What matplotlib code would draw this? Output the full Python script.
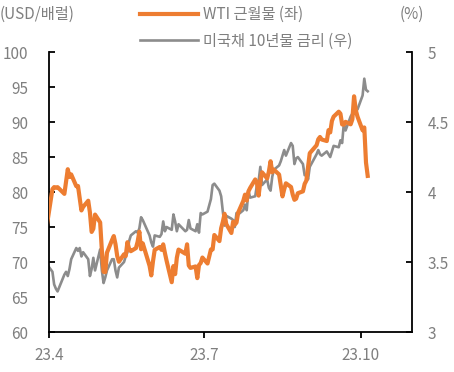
import matplotlib
matplotlib.use('Agg')
import matplotlib.pyplot as plt
import pandas as pd

plt.rcParams['font.family'] = ['Noto Sans CJK KR', 'DejaVu Sans']

# trading days (2023)
dates = (
    ['03-31']
    + ['04-%02d' % d for d in [3, 4, 5, 6, 10, 11, 12, 13, 14, 17, 18, 19, 20, 21, 24, 25, 26, 27, 28]]
    + ['05-%02d' % d for d in [1, 2, 3, 4, 5, 8, 9, 10, 11, 12, 15, 16, 17, 18, 19, 22, 23, 24, 25, 26, 30, 31]]
    + ['06-%02d' % d for d in [1, 2, 5, 6, 7, 8, 9, 12, 13, 14, 15, 16, 20, 21, 22, 23, 26, 27, 28, 29, 30]]
    + ['07-%02d' % d for d in [3, 5, 6, 7, 10, 11, 12, 13, 14, 17, 18, 19, 20, 21, 24, 25, 26, 27, 28, 31]]
    + ['08-%02d' % d for d in [1, 2, 3, 4, 7, 8, 9, 10, 11, 14, 15, 16, 17, 18, 21, 22, 23, 24, 25, 28, 29, 30, 31]]
    + ['09-%02d' % d for d in [1, 5, 6, 7, 8, 11, 12, 13, 14, 15, 18, 19, 20, 21, 22, 25, 26, 27, 28, 29]]
    + ['10-%02d' % d for d in [2, 3, 4, 5]]
)
dates = pd.to_datetime(['2023-' + d for d in dates])

# WTI front month (USD/bbl)
wti = [75.67,
       80.42, 80.71, 80.61, 80.70, 79.74, 81.53, 83.26, 82.16, 82.52, 80.83,
       80.86, 79.16, 77.37, 77.87, 78.76, 77.07, 74.30, 74.76, 76.78,
       75.66, 71.66, 68.60, 68.56, 71.34, 73.16, 73.71, 72.56, 70.87, 70.04,
       71.11, 70.86, 72.83, 71.86, 71.55, 71.99, 72.91, 74.34, 71.83, 72.67,
       69.46, 68.09,
       70.10, 71.74, 72.15, 71.74, 72.53, 71.29, 70.17, 67.12, 69.42, 68.27,
       70.62, 71.78, 71.19, 72.53, 69.51, 69.16, 69.37, 67.70, 69.56, 69.86,
       70.64,
       69.79, 71.79, 71.80, 73.86, 72.99, 74.83, 75.75, 76.89, 75.42, 74.15,
       75.75, 75.35, 75.63, 77.07, 78.74, 79.63, 78.78, 80.09, 80.58, 81.80,
       81.37, 79.49, 81.55, 82.82, 81.94, 82.92, 84.40, 82.82, 83.19, 82.51,
       80.99, 79.38, 80.39, 81.25, 80.72, 79.64, 78.89, 79.05, 79.83, 80.10,
       81.16, 81.63, 83.63,
       85.55, 86.69, 87.54, 87.87, 87.51, 87.29, 88.84, 88.52, 90.16, 90.77,
       91.48, 91.20, 89.66, 89.63, 90.03, 89.68, 90.39, 93.68, 91.71, 90.79,
       88.82, 89.23, 84.22, 82.31]

# US 10Y treasury yield (%)
ust10 = [3.48,
         3.43, 3.34, 3.31, 3.29, 3.41, 3.43, 3.40, 3.45, 3.52, 3.60,
         3.58, 3.60, 3.54, 3.57, 3.52, 3.40, 3.45, 3.53, 3.44,
         3.59, 3.44, 3.35, 3.39, 3.44, 3.52, 3.52, 3.44, 3.39, 3.46,
         3.50, 3.54, 3.57, 3.65, 3.69, 3.72, 3.71, 3.74, 3.82, 3.80,
         3.69, 3.64,
         3.61, 3.69, 3.68, 3.70, 3.79, 3.72, 3.75, 3.73, 3.84, 3.79,
         3.72, 3.77, 3.72, 3.73, 3.80, 3.74, 3.72, 3.77, 3.71, 3.85,
         3.84,
         3.86, 3.95, 4.05, 4.06, 4.01, 3.97, 3.86, 3.76, 3.83, 3.81,
         3.80, 3.75, 3.85, 3.84, 3.87, 3.91, 3.87, 4.01, 3.96, 3.97,
         4.05, 4.08, 4.18, 4.05, 4.09, 4.03, 4.01, 4.11, 4.16, 4.19,
         4.22, 4.26, 4.30, 4.26, 4.35, 4.33, 4.20, 4.24, 4.25, 4.20,
         4.12, 4.12, 4.09,
         4.18, 4.27, 4.30, 4.27, 4.26, 4.29, 4.27, 4.25, 4.29, 4.33,
         4.32, 4.37, 4.35, 4.49, 4.44, 4.54, 4.56, 4.61, 4.59, 4.59,
         4.69, 4.81, 4.73, 4.72]

tick_dates = pd.to_datetime(['2023-04-01', '2023-07-01', '2023-10-01'])
tick_labels = ['23.4', '23.7', '23.10']

orange = '#ED7D31'
gray = '#8C8C8C'
label_col = '#7F7F7F'

fig = plt.figure(figsize=(4.54, 3.72), dpi=100)
ax = fig.add_axes([0.108, 0.1075, 0.7995, 0.7525])
ax2 = ax.twinx()

l1, = ax.plot(dates, wti, color=orange, lw=3.0, label='WTI 근월물 (좌)', zorder=3)
l2, = ax2.plot(dates, ust10, color=gray, lw=1.9, label='미국채 10년물 금리 (우)', zorder=2)
ax.set_zorder(ax2.get_zorder() + 1)
ax.patch.set_visible(False)

ax.set_xlim(pd.Timestamp('2023-04-01'), pd.Timestamp('2023-10-31'))
ax.set_ylim(60, 100)
ax2.set_ylim(3, 5)
ax.set_yticks(range(60, 101, 5))
ax2.set_yticks([3, 3.5, 4, 4.5, 5])
ax2.set_yticklabels(['3', '3.5', '4', '4.5', '5'])
ax.set_xticks(tick_dates)
ax.set_xticklabels(tick_labels)

for a in (ax, ax2):
    a.spines['top'].set_visible(False)
    for s in ('left', 'right', 'bottom'):
        a.spines[s].set_linewidth(1.3)
        a.spines[s].set_color('black')
ax.spines['right'].set_visible(False)
ax2.spines['left'].set_visible(False)
ax2.spines['bottom'].set_visible(False)

ax.tick_params(axis='y', direction='in', length=4, width=1.3, pad=15,
               labelsize=11, labelcolor=label_col)
ax2.tick_params(axis='y', direction='in', length=4, width=1.3, pad=11,
                labelsize=11, labelcolor=label_col)
ax.tick_params(axis='x', direction='out', length=4, width=1.3, pad=7,
               labelsize=11, labelcolor=label_col)

fig.text(0.0, 0.962, '(USD/배럴)', fontsize=11, color=label_col, va='center', ha='left')
fig.text(0.88, 0.962, '(%)', fontsize=11, color=label_col, va='center', ha='left')

fig.legend(handles=[l1, l2], loc='upper left', bbox_to_anchor=(0.279, 1.02),
           frameon=False, fontsize=11, labelcolor=label_col,
           handlelength=3.8, handletextpad=0.3, labelspacing=0.6)

fig.savefig('out.png', dpi=100)
